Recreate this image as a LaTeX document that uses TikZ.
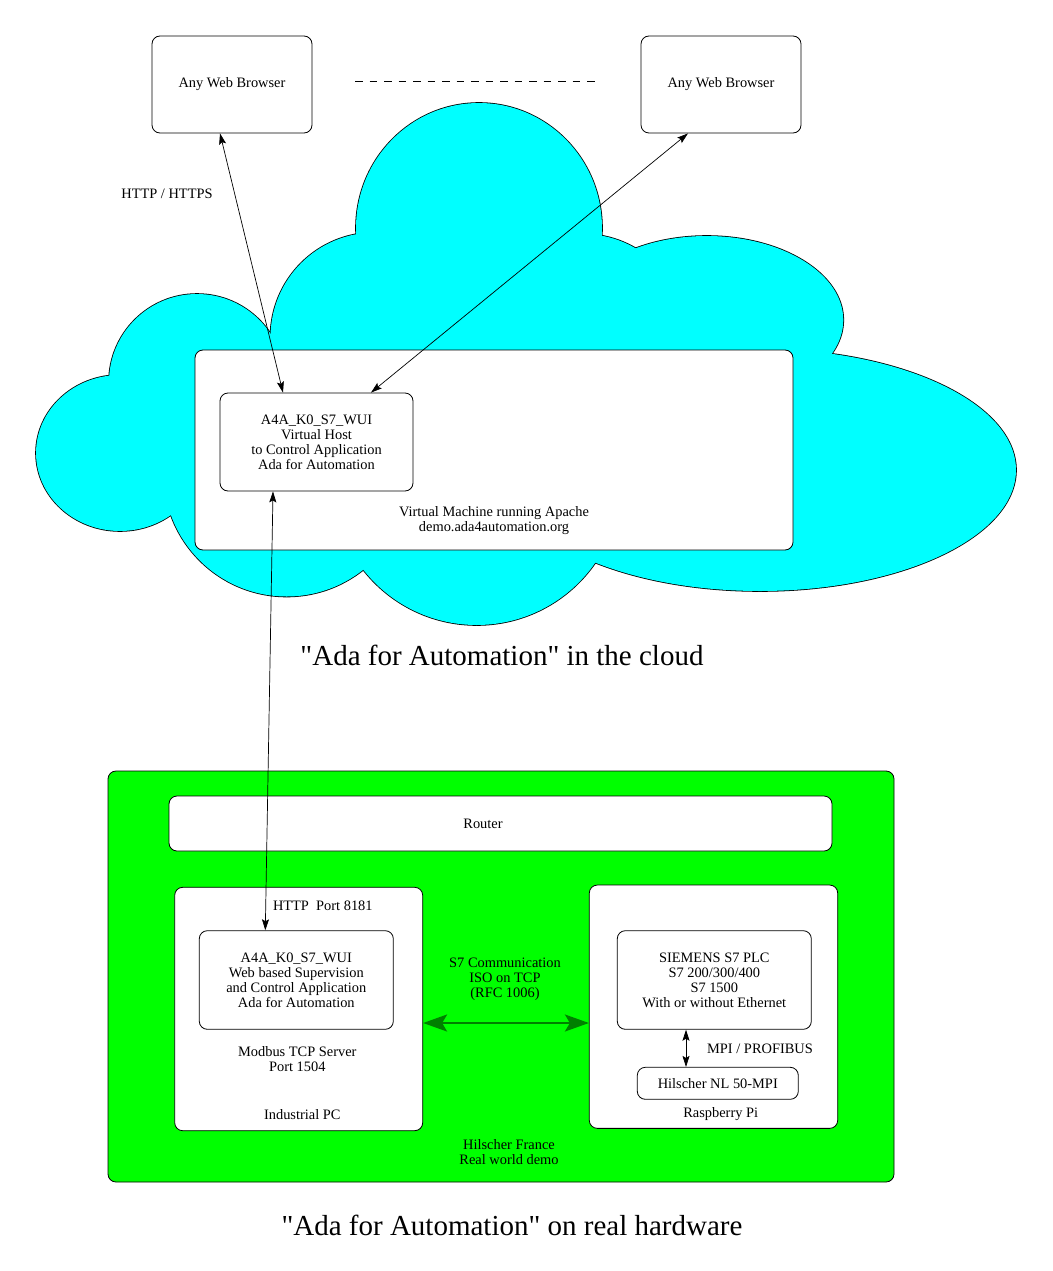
\documentclass[tikz,border=0pt]{standalone}
\usepackage{fontspec}
\setmainfont{Liberation Serif}
\usetikzlibrary{arrows.meta}

\definecolor{cloudcyan}{RGB}{0,255,255}
\definecolor{hwgreen}{RGB}{0,255,0}
\definecolor{linkgreen}{RGB}{0,128,0}

% lobes of the cloud: x/y/x radius/y radius
\newcommand\cloudlobes{479/228/123/125, 375/337/104.5/104.5, 583/338/104/104,
  197/382/88/88, 120/453/84/78, 286.7/473.5/123/123, 476.7/481/144/144,
  706.7/320/136.6/84, 760/470/256/121}

\begin{document}
\begin{tikzpicture}[x=1pt, y=-1pt,
  box/.style={draw, rounded corners=8pt, fill=white, line width=0.8pt, align=center, font=\fontsize{14.4pt}{15pt}\selectfont},
  txt/.style={align=center, font=\fontsize{14.4pt}{15pt}\selectfont},
  title/.style={font=\fontsize{29pt}{33pt}\selectfont},
  arr/.style={{Stealth[length=11pt,width=7pt,inset=2pt]}-{Stealth[length=11pt,width=7pt,inset=2pt]}, line width=0.7pt},
  bigarr/.style={{Stealth[length=24pt,width=17pt,inset=5pt]}-{Stealth[length=24pt,width=17pt,inset=5pt]}, line width=2pt, draw=linkgreen}
]
\useasboundingbox (0,0) rectangle (1052,1271);

\foreach \cx/\cy/\rx/\ry in \cloudlobes
  \draw[line width=1.6pt] (\cx,\cy) ellipse [x radius=\rx pt, y radius=\ry pt];
\foreach \cx/\cy/\rx/\ry in \cloudlobes
  \fill[cloudcyan] (\cx,\cy) ellipse [x radius=\rx pt, y radius=\ry pt];

\node[box, minimum width=160pt, minimum height=97pt] (brwA) at (232,84.5) {Any Web Browser};
\node[box, minimum width=160pt, minimum height=97pt] (brwB) at (721,84.5) {Any Web Browser};
\coordinate (dashL) at (355,81);
\coordinate (dashR) at (600,81);
\draw[dash pattern=on 7.5pt off 7pt, line width=0.8pt] (dashL) -- (dashR);
\node[txt] (proto) at (167,194) {HTTP / HTTPS};

\node[box, minimum width=598pt, minimum height=200pt] (vm) at (494,450) {};
\node[txt] (vmlbl) at (494,521) {Virtual Machine running Apache\\demo.ada4automation.org};
\node[box, minimum width=193pt, minimum height=98pt] (vhost) at (316.5,442) {A4A\_K0\_S7\_WUI\\Virtual Host\\to Control Application\\Ada for Automation};
\node[title] (cloudtitle) at (502,655) {\textquotedbl Ada for Automation\textquotedbl{} in the cloud};

\node[box, fill=hwgreen, minimum width=786pt, minimum height=411pt] (site) at (501,976.5) {};
\node[box, minimum width=663pt, minimum height=55pt] (router) at (500.5,823.5) {};
\node[txt] (routerlbl) at (483,824) {Router};

\node[box, minimum width=248pt, minimum height=243.4pt] (ipc) at (298.7,1009) {};
\node[txt] (httplbl) at (322.8,906) {HTTP\ \ Port 8181};
\node[box, minimum width=194pt, minimum height=98.6pt] (wui) at (296.3,980) {A4A\_K0\_S7\_WUI\\Web based Supervision\\and Control Application\\Ada for Automation};
\node[txt] (modbus) at (297.3,1059) {Modbus TCP Server\\Port 1504};
\node[txt] (ipclbl) at (302.3,1115) {Industrial PC};

\node[box, minimum width=248.4pt, minimum height=243.3pt] (rpi) at (713.5,1006.7) {};
\node[box, minimum width=194pt, minimum height=98.6pt] (plc) at (714.3,980) {SIEMENS S7 PLC\\S7 200/300/400\\S7 1500\\With or without Ethernet};
\node[box, minimum width=161pt, minimum height=32pt] (nl50) at (717.8,1083.3) {Hilscher NL 50-MPI};
\node[txt] (mpilbl) at (760,1049) {MPI / PROFIBUS};
\node[txt] (rpilbl) at (720.7,1114) {Raspberry Pi};

\node[txt] (s7lbl) at (505,979) {S7 Communication\\ISO on TCP\\(RFC 1006)};
\node[txt] (sitelbl) at (509,1152.5) {Hilscher France\\Real world demo};
\node[title] (hwtitle) at (512,1225) {\textquotedbl Ada for Automation\textquotedbl{} on real hardware};

\draw[arr] ([xshift=-12pt]brwA.south) -- ([xshift=-33.5pt]vhost.north);
\draw[arr] ([xshift=-33pt]brwB.south) -- ([xshift=54.5pt]vhost.north);
\draw[arr] ([xshift=-43.5pt]vhost.south) -- ([xshift=-31pt]wui.north);
\draw[arr] ([xshift=-28.3pt]plc.south) -- ([xshift=-31.8pt]nl50.north);
\draw[bigarr] ([yshift=-14pt]ipc.east) -- ([yshift=-16.3pt]rpi.west);
\end{tikzpicture}
\end{document}
